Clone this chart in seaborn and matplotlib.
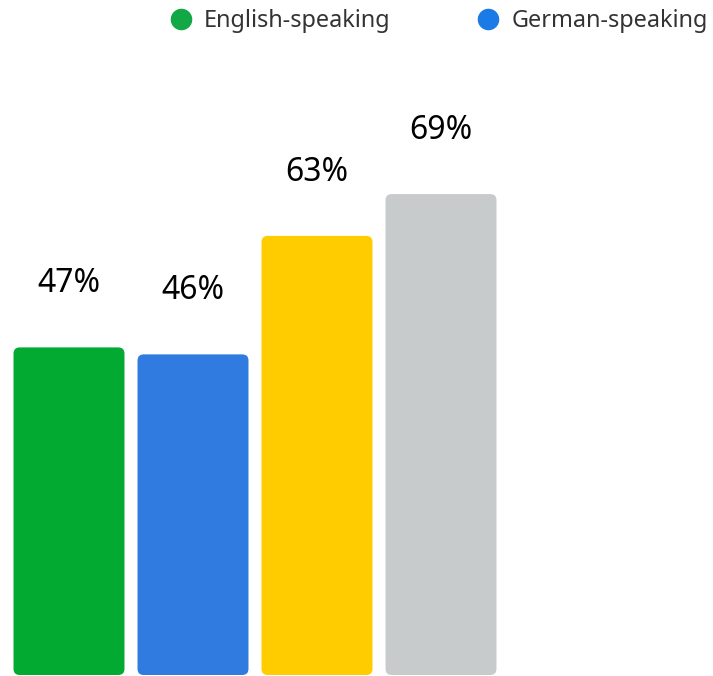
import numpy as np
import pandas as pd
import seaborn as sns
import matplotlib.pyplot as plt
from matplotlib.patches import FancyBboxPatch
from matplotlib.lines import Line2D

# --- DATA ---
categories = ["English-speaking", "German-speaking", "French-speaking", "Italian-speaking"]
values = [47, 46, 63, 69]
labels = ["47%", "46%", "63%", "69%"]
colors = ["#02AA32", "#2F7BDF", "#FFCC00", "#C8CBCC"]
legend_names = ["English-speaking", "German-speaking"]
legend_colors = ["#12A846", "#1A7AE6"]

sns.set_theme(style="white")
plt.rcParams["font.family"] = ["Noto Sans", "DejaVu Sans"]

W, H = 713, 676
fig = plt.figure(figsize=(W / 100, H / 100), dpi=100)
ax = fig.add_axes([0, 1 / H, 1, 675 / H])

df = pd.DataFrame({"cat": categories, "val": values})
sns.barplot(data=df, x="cat", y="val", hue="cat", palette=colors,
            legend=False, width=0.895, ax=ax, saturation=1)

px_x = 124.0   # pixels per category step
px_y = 6.97    # pixels per percent
ax.set_xlim(-69 / px_x, (W - 69) / px_x)
ax.set_ylim(0, 675 / px_y)

# rounded bars
aspect = (1 / px_y) / (1 / px_x)
for p in list(ax.patches):
    x, y = p.get_x(), p.get_y()
    w, h = p.get_width(), p.get_height()
    fc = p.get_facecolor()
    p.remove()
    ax.add_patch(FancyBboxPatch((x, y), w, h,
                                boxstyle="round,pad=0,rounding_size=0.05",
                                mutation_aspect=aspect, fc=fc, ec="none"))

for i, (v, lab) in enumerate(zip(values, labels)):
    ax.text(i, v + 9.1, lab, ha="center", va="center",
            fontsize=23, color="black")

ax.axis("off")

handles = [Line2D([], [], marker="o", ls="", markersize=14.5,
                  markerfacecolor=c, markeredgecolor=c) for c in legend_colors]
fig.legend(handles, legend_names, loc="center left",
           bbox_to_anchor=(169 / W, 1 - 21 / H), ncol=2, frameon=False,
           fontsize=16.9, labelcolor="#333333", handlelength=1.0,
           handletextpad=0.5, columnspacing=3.65, borderpad=0,
           borderaxespad=0)

fig.savefig("out.png", dpi=100)
